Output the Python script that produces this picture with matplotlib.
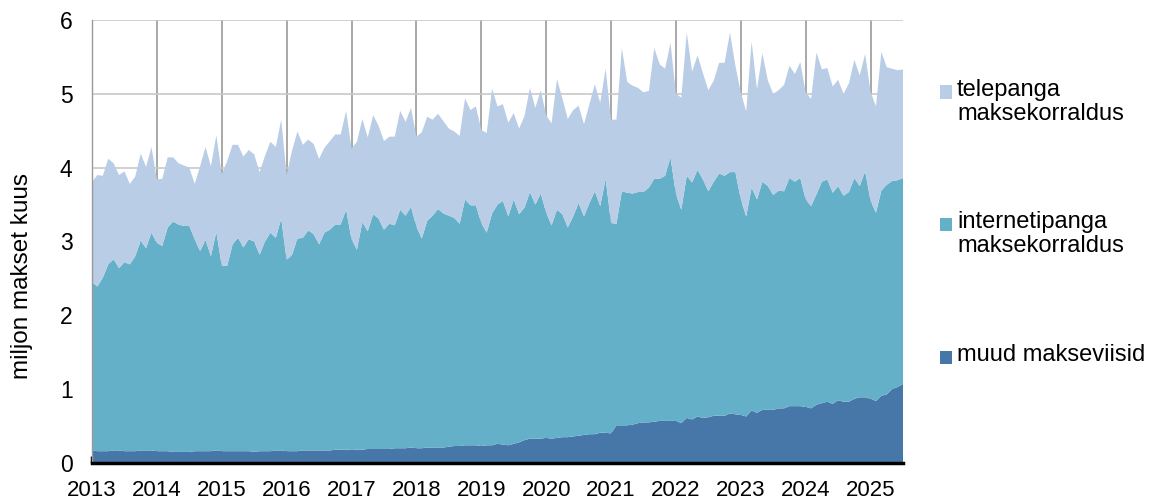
import numpy as np
import matplotlib
matplotlib.use('Agg')
import matplotlib.pyplot as plt
from matplotlib.patches import Rectangle

plt.rcParams['font.family'] = ['Liberation Sans', 'DejaVu Sans']

# monthly values, Jan 2013 - Jul 2025 (million payments per month)
muud = [
    0.17, 0.16, 0.16, 0.16, 0.17, 0.17, 0.16, 0.16, 0.16, 0.17, 0.17, 0.17,
    0.16, 0.16, 0.16, 0.15, 0.15, 0.15, 0.15, 0.16, 0.16, 0.16, 0.16, 0.17,
    0.16, 0.16, 0.16, 0.16, 0.16, 0.16, 0.15, 0.16, 0.16, 0.16, 0.17, 0.17,
    0.16, 0.16, 0.16, 0.17, 0.17, 0.17, 0.17, 0.17, 0.17, 0.18, 0.18, 0.18,
    0.18, 0.18, 0.18, 0.19, 0.19, 0.19, 0.19, 0.19, 0.20, 0.20, 0.20, 0.21,
    0.20, 0.20, 0.21, 0.21, 0.21, 0.21, 0.22, 0.23, 0.23, 0.24, 0.24, 0.24,
    0.23, 0.24, 0.24, 0.26, 0.25, 0.24, 0.26, 0.28, 0.31, 0.33, 0.33, 0.33,
    0.34, 0.33, 0.34, 0.35, 0.35, 0.36, 0.37, 0.38, 0.39, 0.39, 0.41, 0.41,
    0.40, 0.51, 0.51, 0.51, 0.52, 0.54, 0.55, 0.55, 0.56, 0.57, 0.57, 0.57,
    0.57, 0.54, 0.61, 0.59, 0.63, 0.61, 0.62, 0.64, 0.64, 0.64, 0.67, 0.66,
    0.65, 0.63, 0.71, 0.68, 0.72, 0.72, 0.72, 0.74, 0.74, 0.77, 0.77, 0.77,
    0.76, 0.74, 0.79, 0.81, 0.83, 0.80, 0.85, 0.83, 0.83, 0.87, 0.89, 0.89,
    0.87, 0.84, 0.91, 0.93, 1.00, 1.03, 1.07,
]
internet = [
    2.28, 2.23, 2.35, 2.53, 2.59, 2.47, 2.56, 2.53, 2.64, 2.84, 2.74, 2.95,
    2.82, 2.78, 3.03, 3.12, 3.08, 3.06, 3.06, 2.87, 2.71, 2.86, 2.64, 2.96,
    2.51, 2.51, 2.80, 2.89, 2.76, 2.87, 2.85, 2.66, 2.84, 2.96, 2.88, 3.14,
    2.59, 2.66, 2.88, 2.88, 2.98, 2.93, 2.79, 2.95, 2.99, 3.05, 3.05, 3.25,
    2.85, 2.71, 3.08, 2.95, 3.18, 3.12, 2.97, 3.05, 3.02, 3.23, 3.15, 3.26,
    3.00, 2.84, 3.07, 3.14, 3.23, 3.17, 3.13, 3.09, 3.01, 3.33, 3.25, 3.25,
    3.02, 2.88, 3.14, 3.24, 3.30, 3.10, 3.31, 3.09, 3.15, 3.34, 3.17, 3.32,
    3.05, 2.89, 3.09, 3.02, 2.84, 2.98, 3.15, 2.96, 3.13, 3.29, 3.07, 3.44,
    2.85, 2.73, 3.17, 3.15, 3.13, 3.13, 3.12, 3.18, 3.29, 3.28, 3.32, 3.57,
    3.07, 2.89, 3.28, 3.21, 3.34, 3.23, 3.06, 3.17, 3.28, 3.25, 3.27, 3.28,
    2.92, 2.71, 3.02, 2.89, 3.09, 3.03, 2.91, 2.95, 2.94, 3.09, 3.04, 3.09,
    2.81, 2.74, 2.85, 3.00, 3.01, 2.86, 2.90, 2.79, 2.84, 2.99, 2.86, 3.06,
    2.68, 2.55, 2.78, 2.84, 2.82, 2.80, 2.79,
]
telepank = [
    1.36, 1.51, 1.38, 1.43, 1.30, 1.26, 1.23, 1.09, 1.08, 1.18, 1.10, 1.16,
    0.86, 0.91, 0.95, 0.87, 0.83, 0.82, 0.79, 0.75, 1.15, 1.26, 1.22, 1.31,
    1.24, 1.42, 1.35, 1.26, 1.23, 1.21, 1.18, 1.12, 1.16, 1.23, 1.23, 1.34,
    1.15, 1.41, 1.45, 1.26, 1.23, 1.22, 1.16, 1.15, 1.20, 1.22, 1.22, 1.34,
    1.23, 1.46, 1.40, 1.27, 1.34, 1.26, 1.20, 1.18, 1.20, 1.34, 1.27, 1.34,
    1.22, 1.44, 1.41, 1.30, 1.29, 1.25, 1.18, 1.17, 1.19, 1.37, 1.29, 1.34,
    1.26, 1.35, 1.69, 1.33, 1.31, 1.27, 1.17, 1.16, 1.24, 1.41, 1.31, 1.40,
    1.32, 1.38, 1.77, 1.57, 1.47, 1.44, 1.32, 1.25, 1.34, 1.45, 1.40, 1.49,
    1.40, 1.41, 1.94, 1.50, 1.46, 1.41, 1.35, 1.31, 1.77, 1.55, 1.45, 1.55,
    1.36, 1.52, 1.94, 1.50, 1.55, 1.44, 1.37, 1.37, 1.50, 1.53, 1.89, 1.44,
    1.45, 1.42, 1.98, 1.49, 1.74, 1.43, 1.37, 1.36, 1.44, 1.52, 1.46, 1.57,
    1.45, 1.45, 1.92, 1.52, 1.51, 1.44, 1.44, 1.38, 1.47, 1.60, 1.50, 1.59,
    1.48, 1.44, 1.88, 1.59, 1.52, 1.49, 1.47,
]
years = ['2013', '2014', '2015', '2016', '2017', '2018', '2019',
         '2020', '2021', '2022', '2023', '2024', '2025']
labels = ['muud makseviisid', 'internetipanga\nmaksekorraldus',
          'telepanga\nmaksekorraldus']
colors = ['#4677A8', '#64B0C8', '#B9CDE6']

W, H = 1151, 501
fig = plt.figure(figsize=(W / 100, H / 100), dpi=100)
ax = fig.add_axes([92 / W, 1 - 463 / H, (903 - 92) / W, (463 - 20) / H])

x = np.arange(len(muud))
ax.stackplot(x, muud, internet, telepank, colors=colors, linewidth=0)

ax.set_xlim(0, len(muud) - 1)
ax.set_ylim(0, 6)
ax.set_yticks(range(0, 7))
ax.set_xticks(np.arange(len(years)) * 12)
ax.set_xticklabels(years)

ax.set_axisbelow(True)
ax.yaxis.grid(True, color='#C8C8C8', linewidth=1.2)
ax.xaxis.grid(True, color='#999999', linewidth=1.2)

for s in ['top', 'right']:
    ax.spines[s].set_visible(False)
ax.spines['left'].set_color('#999999')
ax.spines['left'].set_linewidth(1.0)
ax.spines['bottom'].set_color('black')
ax.spines['bottom'].set_linewidth(2.5)
ax.spines['bottom'].set_zorder(5)

ax.tick_params(axis='x', direction='in', length=5, width=2.5, color='black',
               pad=12, labelsize=16)
ax.tick_params(axis='y', length=0, pad=14, labelsize=16.5)

# axis title, placed like in the source chart (a bit below the axes centre)
fig.text(22 / W, 1 - 276 / H, 'miljon makset kuus', fontsize=17.5,
         rotation=90, ha='center', va='center')

# legend on the right, squares beside the first line of each label
leg_y = [357, 224, 92]
for lab, col, yy in zip(labels, colors, leg_y):
    fig.patches.append(Rectangle((940 / W, 1 - (yy + 6.5) / H), 12 / W, 13 / H,
                                 transform=fig.transFigure, facecolor=col,
                                 edgecolor='none'))
    fig.text(957 / W, 1 - (yy - 13) / H, lab, fontsize=17, va='top',
             ha='left', linespacing=1.12)

fig.savefig('out.png', dpi=100)
